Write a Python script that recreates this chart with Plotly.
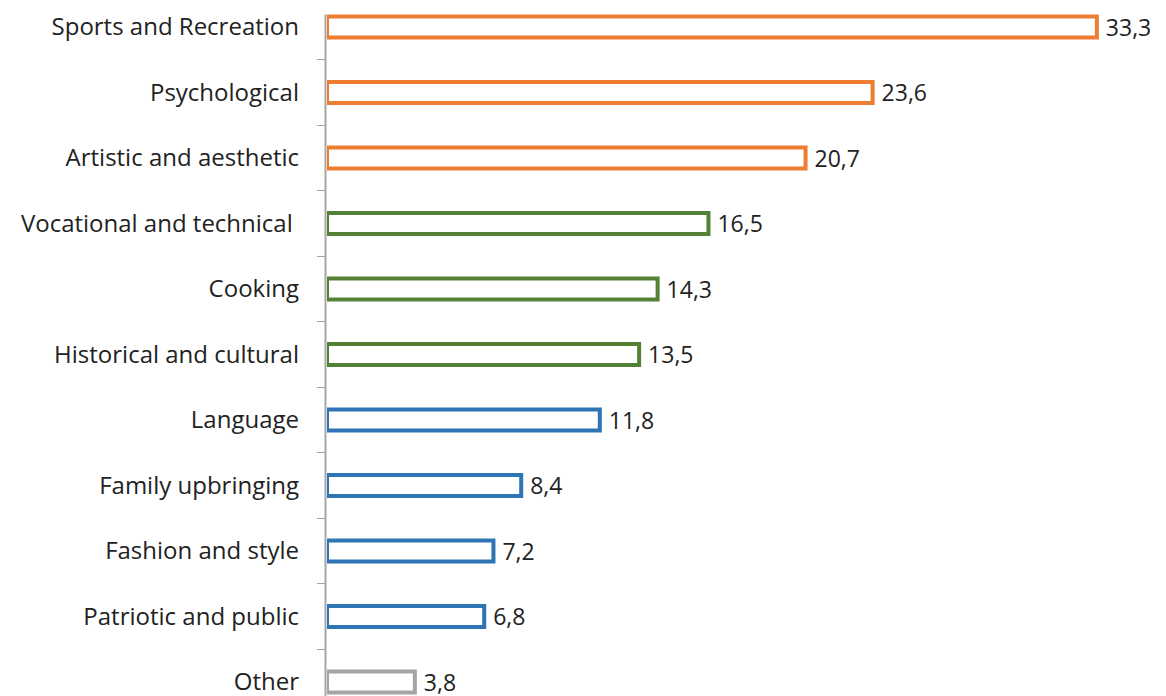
import plotly.graph_objects as go

categories = ["Sports and Recreation", "Psychological", "Artistic and aesthetic",
              "Vocational and technical\u00a0", "Cooking", "Historical and cultural",
              "Language", "Family upbringing", "Fashion and style",
              "Patriotic and public", "Other"]
values = [33.3, 23.6, 20.7, 16.5, 14.3, 13.5, 11.8, 8.4, 7.2, 6.8, 3.8]
value_labels = ["33,3", "23,6", "20,7", "16,5", "14,3", "13,5", "11,8", "8,4", "7,2", "6,8", "3,8"]

ORANGE = "#ED7D31"
GREEN = "#548235"
BLUE = "#2E75B6"
GRAY = "#A5A5A5"
colors = [ORANGE] * 3 + [GREEN] * 3 + [BLUE] * 4 + [GRAY]

FONT = "Open Sans"
TXT = "#222222"

fig = go.Figure(go.Bar(
    y=categories, x=values, orientation="h",
    width=0.32,
    marker=dict(color="white", line=dict(color=colors, width=4)),
    text=["\u00a0" + t for t in value_labels], textposition="outside", cliponaxis=False,
    constraintext="none",
    textfont=dict(family=FONT, size=23, color=TXT),
    hoverinfo="skip",
))

# vertical axis line starting at the top edge of the first bar
fig.add_shape(type="line", xref="paper", yref="y",
              x0=-0.0018, x1=-0.0018, y0=-0.19, y1=10.214,
              line=dict(color="#A6A6A6", width=2), layer="above")

fig.update_layout(
    width=1166, height=696,
    margin=dict(l=327, r=0, t=0, b=0),
    paper_bgcolor="white", plot_bgcolor="white",
    showlegend=False,
    font=dict(family=FONT, size=24, color=TXT),
    xaxis=dict(range=[0, 36.29], visible=False, fixedrange=True, automargin=False),
    yaxis=dict(type="category", categoryorder="array", categoryarray=categories,
               range=[10.214, -0.412], showline=False, showgrid=False,
               zeroline=False, ticks="outside", tickson="boundaries",
               ticklen=9, tickcolor="#A6A6A6", tickwidth=1,
               ticklabelstandoff=27, automargin=False, fixedrange=True,
               tickfont=dict(family=FONT, size=24, color=TXT)),
)

fig.write_html("out.html", config={"displayModeBar": False, "staticPlot": True},
               post_script="document.body.style.margin='0';document.body.style.padding='0';")
